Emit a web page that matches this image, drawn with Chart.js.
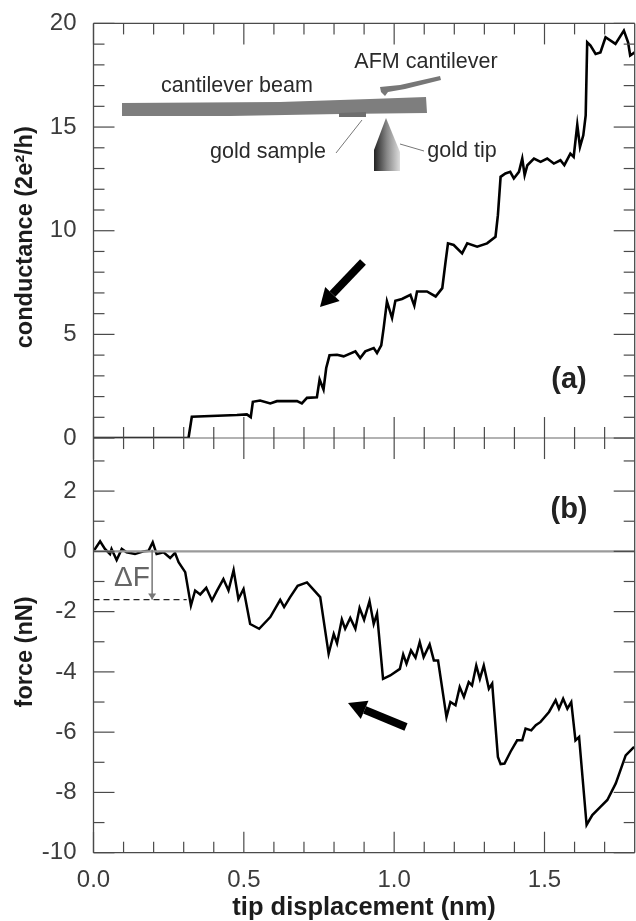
<!DOCTYPE html>
<html><head><meta charset="utf-8">
<style>html,body{margin:0;padding:0;background:#fff}canvas{display:block;filter:blur(.4px)}</style>
<script src="https://cdn.jsdelivr.net/npm/chart.js@4"></script>
</head><body><canvas id="c" width="636" height="921"></canvas>
<script>
const conductanceX=[0,.316,.327,.477,.510,.523,.530,.554,.588,.610,.677,.693,.710,.743,.752,.765,.774,.785,.810,.832,.871,.887,.904,.932,.943,.957,.965,.976,.993,1.004,1.026,1.054,1.067,1.076,1.109,1.138,1.160,1.171,1.179,1.198,1.226,1.243,1.276,1.309,1.337,1.345,1.354,1.370,1.386,1.398,1.415,1.426,1.434,1.443,1.465,1.487,1.509,1.531,1.553,1.566,1.586,1.597,1.609,1.618,1.629,1.637,1.642,1.653,1.670,1.686,1.703,1.736,1.764,1.778,1.785,1.8];
const conductance=[0,0,1.03,1.11,1.14,1.01,1.75,1.81,1.67,1.78,1.78,1.67,1.94,1.97,2.82,2.34,3.38,3.99,4.02,3.94,4.18,3.86,4.18,4.34,4.10,4.47,5.30,6.59,5.79,6.62,6.71,6.91,6.39,7.07,7.07,6.83,7.23,8.51,9.39,9.31,8.91,9.39,9.23,9.39,9.71,10.75,12.60,12.76,12.84,12.52,12.84,13.48,12.68,13.16,13.48,13.32,13.48,13.24,13.40,13.16,13.72,13.56,15.11,14.04,14.60,15.56,19.09,18.93,18.53,18.6,19.33,19.01,19.65,19.09,18.45,18.6];
const forceX=[0,.022,.038,.055,.060,.077,.094,.110,.138,.166,.183,.197,.210,.233,.255,.271,.283,.305,.324,.338,.355,.375,.394,.410,.432,.449,.466,.482,.499,.521,.551,.588,.621,.634,.654,.679,.710,.754,.782,.799,.810,.826,.837,.854,.871,.885,.900,.918,.932,.943,.963,.987,1.019,1.030,1.041,1.056,1.071,1.085,1.098,1.118,1.132,1.146,1.174,1.187,1.204,1.218,1.232,1.248,1.259,1.273,1.285,1.298,1.315,1.326,1.345,1.354,1.367,1.387,1.409,1.426,1.437,1.456,1.471,1.487,1.515,1.537,1.548,1.562,1.576,1.589,1.603,1.615,1.640,1.659,1.686,1.709,1.737,1.770,1.798];
const force=[0,.33,.08,-.09,.08,-.29,.08,-.03,-.09,0,.02,.30,-.09,-.03,-.22,-.05,-.36,-.69,-1.80,-1.30,-1.43,-1.21,-1.63,-1.32,-.92,-1.30,-.62,-1.58,-1.25,-2.41,-2.57,-2.18,-1.61,-1.85,-1.52,-1.14,-1.03,-1.52,-3.40,-2.74,-3.05,-2.26,-2.57,-2.21,-2.57,-1.88,-2.27,-1.65,-2.41,-2.07,-4.23,-4.12,-3.90,-3.42,-3.73,-3.29,-3.53,-3.01,-3.51,-3.09,-3.62,-3.62,-5.50,-5.00,-5.11,-4.50,-4.83,-4.34,-4.45,-3.79,-4.23,-3.79,-4.56,-4.39,-6.82,-7.06,-7.04,-6.65,-6.27,-6.27,-5.88,-5.94,-5.77,-5.66,-5.33,-4.94,-5.22,-4.89,-5.22,-5.00,-6.27,-6.16,-9.08,-8.75,-8.48,-8.25,-7.70,-6.77,-6.49];
const zeroLineX=[0,1.8];
const zeroLine=[0,0];
const deltaFX=[0,.31];
const deltaF=[-1.6,-1.6];
const xTicks=[0,.5,1,1.5];
const xMinor=[.1,.2,.3,.4,.6,.7,.8,.9,1.1,1.2,1.3,1.4,1.6,1.7];
const gTicks=[0,5,10,15,20];
const gMinor=[1,2,3,4,6,7,8,9,11,12,13,14,16,17,18,19];
const fTicks=[-10,-8,-6,-4,-2,0,2];
const fMinor=[-9,-7,-5,-3,-1,1,3];
const pts=(xs,ys)=>xs.map((x,i)=>({x,y:ys[i]}));
const FONT='"Liberation Sans", Arial, sans-serif';
const TICK='#3c3c3c';

const decor={id:'decor',afterDatasetsDraw(ch){
  const c=ch.ctx,{left:L,right:R,top:T,bottom:B}=ch.chartArea;
  const X=ch.scales.x,G=ch.scales.yG,F=ch.scales.yF;
  const mid=G.getPixelForValue(0);
  c.save();
  c.strokeStyle='#4a4a4a';c.lineWidth=1.3;
  const seg=(a,b,d,e)=>{c.beginPath();c.moveTo(a,b);c.lineTo(d,e);c.stroke()};
  seg(L,T,R,T);seg(L,T,L,B);seg(R,T,R,B);seg(L,B,R,B);
  c.strokeStyle='#666';c.lineWidth=1.1;seg(L,mid,R,mid);
  c.strokeStyle='#4a4a4a';c.lineWidth=1.2;
  const xt=(v,l)=>{const p=X.getPixelForValue(v);seg(p,T,p,T+l);seg(p,mid-l,p,mid+l);seg(p,B,p,B-l)};
  xMinor.forEach(v=>xt(v,11));xTicks.forEach(v=>xt(v,21));
  const yt=(s,v,l)=>{const p=s.getPixelForValue(v);seg(L,p,L+l,p);seg(R,p,R-l,p)};
  gMinor.forEach(v=>yt(G,v,11));gTicks.forEach(v=>yt(G,v,21));
  fMinor.forEach(v=>yt(F,v,11));fTicks.forEach(v=>yt(F,v,21));

  // inset sketch
  const poly=(p,fill)=>{c.beginPath();p.forEach((q,i)=>i?c.lineTo(q[0],q[1]):c.moveTo(q[0],q[1]));c.closePath();c.fillStyle=fill;c.fill()};
  poly([[122,103],[280,102],[370,99],[426,97],[427,113],[340,114],[230,116],[122,116]],'#7e7e7e');
  poly([[339,113],[366,112],[366,117],[339,117]],'#6e6e6e');
  poly([[380,87],[400,85],[440,76],[441,80],[405,89],[388,92],[385,96],[381,92]],'#777');
  const g=c.createLinearGradient(374,0,400,0);g.addColorStop(0,'#222');g.addColorStop(.5,'#888');g.addColorStop(1,'#ddd');
  poly([[374,171],[374,150],[386,118],[400,152],[400,171]],g);
  c.strokeStyle='#777';c.lineWidth=1;seg(336,153,362,120);seg(400,144,424,151);
  c.fillStyle='#2a2a2a';c.font='21.5px '+FONT;c.textAlign='center';c.textBaseline='middle';
  c.fillText('cantilever beam',237,86);
  c.fillText('AFM cantilever',426,62);
  c.fillText('gold sample',268,152);
  c.fillText('gold tip',462,151);
  c.font='bold 29px '+FONT;c.fillStyle='#222';
  c.fillText('(a)',569,380);c.fillText('(b)',569,510);

  // direction arrows
  const arrow=(x0,y0,x1,y1)=>{const a=Math.atan2(y1-y0,x1-x0),bx=x1-18*Math.cos(a),by=y1-18*Math.sin(a);
    c.strokeStyle='#000';c.lineWidth=8;seg(x0,y0,bx,by);
    poly([[x1,y1],[bx-10*Math.sin(a),by+10*Math.cos(a)],[bx+10*Math.sin(a),by-10*Math.cos(a)]],'#000')};
  arrow(363,262,320,307);arrow(406,727,348,703);

  // delta F
  c.fillStyle='#666';c.font='28px '+FONT;c.fillText('ΔF',132,578);
  const dx=X.getPixelForValue(.195),d0=F.getPixelForValue(.05),d1=F.getPixelForValue(-1.6);
  c.strokeStyle='#777';c.lineWidth=1.5;seg(dx,d0,dx,d1);
  poly([[dx,d1],[dx-4,d1-6],[dx+4,d1-6]],'#777');
  c.restore();
}};

new Chart(document.getElementById('c'),{type:'line',plugins:[decor],
 data:{datasets:[
  {data:pts(zeroLineX,zeroLine),yAxisID:'yF',borderColor:'#9a9a9a',borderWidth:2.2,pointRadius:0},
  {data:pts(deltaFX,deltaF),yAxisID:'yF',borderColor:'#222',borderWidth:1.2,borderDash:[6,4],pointRadius:0},
  {data:pts(conductanceX,conductance),yAxisID:'yG',borderColor:'#000',borderWidth:2.6,pointRadius:0,tension:0},
  {data:pts(forceX,force),yAxisID:'yF',borderColor:'#000',borderWidth:2.5,pointRadius:0,tension:0}
 ]},
 options:{responsive:false,animation:false,devicePixelRatio:1,
  layout:{padding:{top:20.5,right:1.3,left:0,bottom:0}},
  plugins:{legend:{display:false},tooltip:{enabled:false}},
  scales:{
   x:{type:'linear',min:0,max:1.8,position:'bottom',
    grid:{display:false},border:{display:false},
    afterBuildTicks:s=>{s.ticks=xTicks.map(v=>({value:v}))},
    afterFit:s=>{s.height=68.3},
    ticks:{color:TICK,font:{family:FONT,size:24},padding:5,maxRotation:0,autoSkip:false,callback:v=>v.toFixed(1)},
    title:{display:true,text:'tip displacement (nm)',color:'#1c1c1c',font:{family:FONT,size:25.5,weight:'bold',lineHeight:1},padding:{top:0,bottom:0}}},
   yF:{type:'linear',min:-10,max:3.76,position:'left',stack:'panels',stackWeight:1,
    grid:{display:false},border:{display:false},
    afterBuildTicks:s=>{s.ticks=fTicks.map(v=>({value:v}))},
    afterFit:s=>{s.width=93.5},
    ticks:{color:TICK,font:{family:FONT,size:24},padding:9,autoSkip:false},
    title:{display:true,text:'force (nN)  ',color:'#1c1c1c',font:{family:FONT,size:23.5,weight:'bold'},padding:{top:11,bottom:0}}},
   yG:{type:'linear',min:0,max:20,position:'left',stack:'panels',stackWeight:1,
    grid:{display:false},border:{display:false},
    afterBuildTicks:s=>{s.ticks=gTicks.map(v=>({value:v}))},
    afterFit:s=>{s.width=93.5},
    ticks:{color:TICK,font:{family:FONT,size:24},padding:9,autoSkip:false},
    title:{display:true,text:'conductance (2e²/h)  ',color:'#1c1c1c',font:{family:FONT,size:23.5,weight:'bold'},padding:{top:11,bottom:0}}}
  }}});
</script></body></html>
